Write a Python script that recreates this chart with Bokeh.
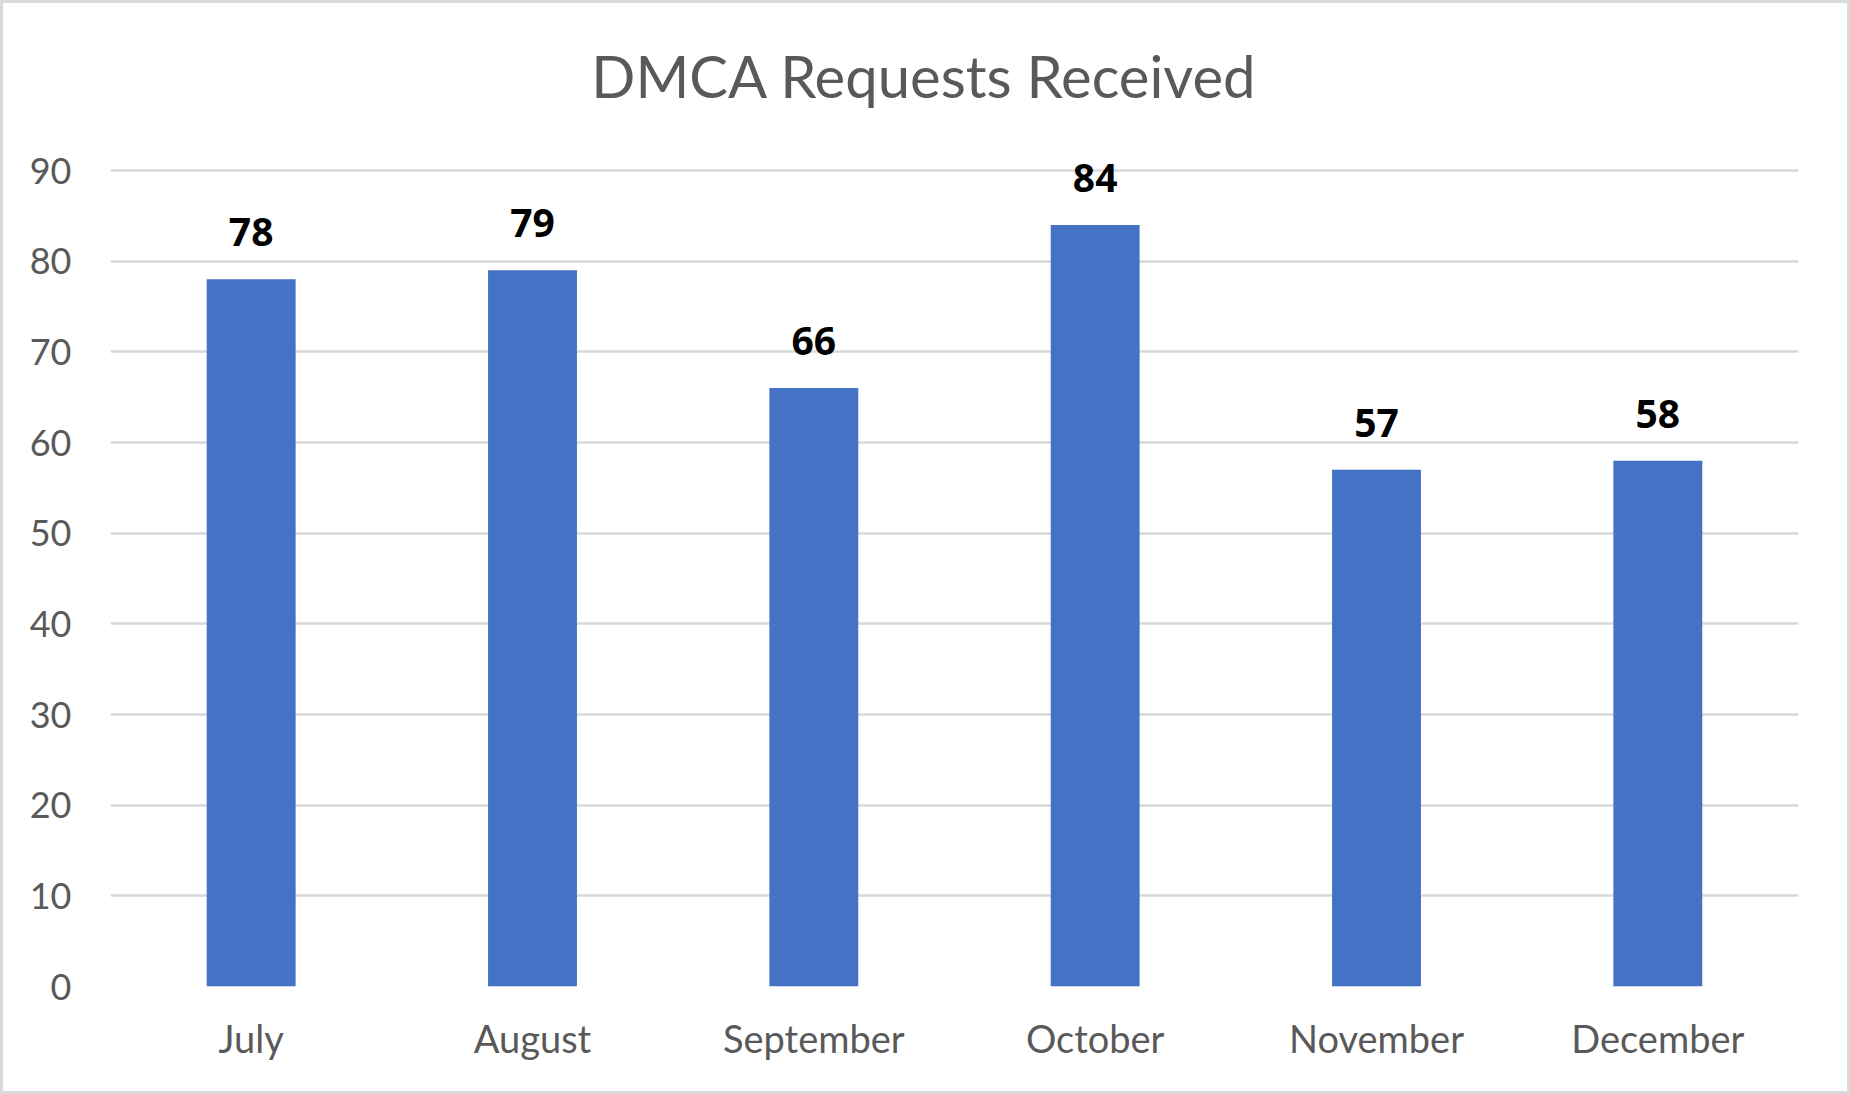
from bokeh.plotting import figure
from bokeh.models import ColumnDataSource, FactorRange, Range1d, FixedTicker, Label
from bokeh.core.properties import value
from bokeh.embed import file_html
from bokeh.resources import INLINE

months = ["July", "August", "September", "October", "November", "December"]
requests = [78, 79, 66, 84, 57, 58]
y_ticks = [0, 10, 20, 30, 40, 50, 60, 70, 80, 90]
title_text = "DMCA Requests Received"

FONT = "Lato"
GREY = "#595959"

src = ColumnDataSource(dict(month=months, value=requests, label=[str(v) for v in requests]))

p = figure(
    width=1850, height=1094,
    x_range=FactorRange(*months, range_padding=0),
    y_range=Range1d(0, 108.42),
    output_backend="svg", toolbar_location=None,
    min_border_left=107, min_border_right=55, min_border_top=0, min_border_bottom=111,
)
p.styles = {"border": "3px solid #D9D9D9", "box-sizing": "border-box"}
p.outline_line_color = None
p.background_fill_color = "white"
p.border_fill_color = "white"

p.vbar(x="month", top="value", width=0.316, source=src, color="#4472C4", line_color=None)

p.yaxis.ticker = FixedTicker(ticks=y_ticks)
p.ygrid.ticker = FixedTicker(ticks=y_ticks)
p.ygrid.grid_line_color = "#D9D9D9"
p.ygrid.grid_line_width = 2.5
p.xgrid.grid_line_color = None

for ax in (p.xaxis, p.yaxis):
    ax.axis_line_color = None
    ax.major_tick_line_color = None
    ax.minor_tick_line_color = None
    ax.major_label_text_color = GREY
    ax.major_label_text_font = FONT

p.yaxis.major_label_text_font_size = "36px"
p.yaxis.major_label_standoff = 33
p.xaxis.major_label_text_font_size = "38px"
p.xaxis.major_label_standoff = 22

p.text(x="month", y="value", text="label", source=src,
       text_align="center", text_baseline="alphabetic", y_offset=-47,
       text_font=value("Open Sans"), text_font_size="39px", text_font_style="bold",
       text_color="black")

title = Label(x=2.893, y=100.5, text=title_text, text_align="center", text_baseline="middle",
              text_font=FONT, text_font_size="58px", text_color=GREY)
p.add_layout(title)

open("out.html", "w").write(file_html(p, INLINE))
